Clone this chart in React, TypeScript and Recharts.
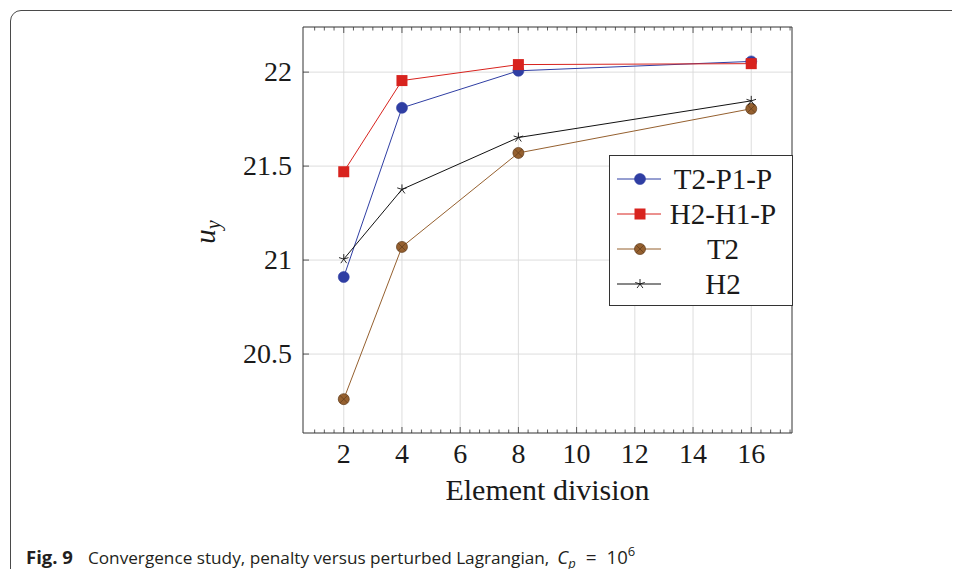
import React from 'react';
import { LineChart, Line, XAxis, YAxis, CartesianGrid } from 'recharts';

// --- Data ---
const divisions = [2, 4, 8, 16];
const t2p1p = [20.91, 21.81, 22.007, 22.057];
const h2h1p = [21.47, 21.955, 22.04, 22.045];
const t2 = [20.26, 21.07, 21.57, 21.805];
const h2 = [21.005, 21.376, 21.652, 21.847];

const xMajor = [2, 4, 6, 8, 10, 12, 14, 16];
const yMajor = [20.5, 21, 21.5, 22];
const xDomain = [0.6, 17.4];
const yDomain = [20.08, 22.24];

// 5 minor ticks between majors, also outside the first/last major
const xTicks: number[] = [];
for (let k = -3; k <= 46; k++) {
    const v = 2 + k / 3;
    if (v > xDomain[0] && v < xDomain[1]) xTicks.push(Math.round(v * 1000) / 1000);
}
const isMajorX = (v: number) => Math.abs(v - Math.round(v)) < 1e-6 && Math.round(v) % 2 === 0;

const data = divisions.map((d, i) => ({ x: d, t2p1p: t2p1p[i], h2h1p: h2h1p[i], t2: t2[i], h2: h2[i] }));

// --- Theme ---
const SERIF = '"Liberation Serif", "Times New Roman", serif';
const SANS = '"Open Sans", "Noto Sans", sans-serif';
const AXIS = '#333';
const GRID = '#d9d9d9';
const BLUE = '#2f3ea3';
const RED = '#d8231e';
const BROWN = '#95602f';
const BLACK = '#111';

// --- Markers ---
const CircleMark = ({ cx, cy }: any) => <circle cx={cx} cy={cy} r={5.5} fill={BLUE} stroke={BLUE} strokeWidth={0.6} />;
const SquareMark = ({ cx, cy }: any) => <rect x={cx - 5.5} y={cy - 5.5} width={11} height={11} fill={RED} />;
const OtimesMark = ({ cx, cy }: any) => {
    const d = 5.5 * 0.707;
    return (
        <g>
            <circle cx={cx} cy={cy} r={5.5} fill={BROWN} stroke="#5e3b1b" strokeWidth={0.7} />
            <line x1={cx - d} y1={cy - d} x2={cx + d} y2={cy + d} stroke="#5e3b1b" strokeWidth={0.7} />
            <line x1={cx - d} y1={cy + d} x2={cx + d} y2={cy - d} stroke="#5e3b1b" strokeWidth={0.7} />
        </g>
    );
};
const StarMark = ({ cx, cy }: any) => (
    <g stroke={BLACK} strokeWidth={0.9}>
        {[0, 1, 2, 3, 4].map((k) => {
            const a = (-90 + k * 72) * (Math.PI / 180);
            return <line key={k} x1={cx} y1={cy} x2={cx + 5 * Math.cos(a)} y2={cy + 5 * Math.sin(a)} />;
        })}
    </g>
);

const SERIES = [
    { key: 't2p1p', name: 'T2-P1-P', color: BLUE, Mark: CircleMark },
    { key: 'h2h1p', name: 'H2-H1-P', color: RED, Mark: SquareMark },
    { key: 't2', name: 'T2', color: BROWN, Mark: OtimesMark },
    { key: 'h2', name: 'H2', color: BLACK, Mark: StarMark },
];

// --- Ticks (pointing inwards, like pgfplots) ---
function BottomTick({ x, y, payload }: any) {
    const major = isMajorX(payload.value);
    return (
        <g>
            <line x1={x} x2={x} y1={y} y2={y - (major ? 6 : 3.5)} stroke={AXIS} strokeWidth={0.8} />
            {major && (
                <text x={x} y={y + 30} textAnchor="middle" fontFamily={SERIF} fontSize={28} fill="#1a1a1a">
                    {Math.round(payload.value)}
                </text>
            )}
        </g>
    );
}

function TopTick({ x, y, payload }: any) {
    const major = isMajorX(payload.value);
    return <line x1={x} x2={x} y1={y} y2={y + (major ? 6 : 3.5)} stroke={AXIS} strokeWidth={0.8} />;
}

function LeftTick({ x, y, payload }: any) {
    return (
        <g>
            <line x1={x} x2={x + 6} y1={y} y2={y} stroke={AXIS} strokeWidth={0.8} />
            <text x={x - 11} y={y + 9} textAnchor="end" fontFamily={SERIF} fontSize={28} fill="#1a1a1a">
                {payload.value}
            </text>
        </g>
    );
}

function RightTick({ x, y }: any) {
    return <line x1={x} x2={x - 6} y1={y} y2={y} stroke={AXIS} strokeWidth={0.8} />;
}

function YLabel({ viewBox }: any) {
    const x = viewBox.x - 28;
    const y = viewBox.y + viewBox.height / 2 + 2;
    return (
        <text x={x} y={y} transform={`rotate(-90 ${x} ${y})`} textAnchor="middle" fontFamily={SERIF} fontStyle="italic" fontSize={29} fill="#1a1a1a">
            u<tspan fontSize={20} dy={5}>y</tspan>
        </text>
    );
}

function XLabel({ viewBox }: any) {
    return (
        <text x={viewBox.x + viewBox.width / 2} y={viewBox.y + 67} textAnchor="middle" fontFamily={SERIF} fontSize={30} fill="#1a1a1a">
            Element division
        </text>
    );
}

function LegendBox() {
    return (
        <div style={{ position: 'absolute', left: 609, top: 155, width: 182, height: 149, border: `1.2px solid ${AXIS}`, background: '#fff' }}>
            {SERIES.map((s, i) => (
                <div key={s.key} style={{ position: 'absolute', left: 0, top: 8 + i * 35, height: 30, width: 182, display: 'flex', alignItems: 'center' }}>
                    <svg width={54} height={30} style={{ display: 'block' }}>
                        <line x1={7} x2={51} y1={15} y2={15} stroke={s.color} strokeWidth={1} />
                        <s.Mark cx={30} cy={15} />
                    </svg>
                    <span style={{ width: 118, textAlign: 'center', fontFamily: SERIF, fontSize: 29, lineHeight: '30px', color: '#1a1a1a' }}>{s.name}</span>
                </div>
            ))}
        </div>
    );
}

export default function App() {
    return (
        <div style={{ position: 'relative', width: 960, height: 577, margin: -8, overflow: 'hidden', background: '#fff' }}>
            <div style={{ position: 'absolute', left: 10, top: 10, width: 1100, height: 800, border: '1.6px solid #4a4a4a', borderRadius: 11 }} />
            <LineChart
                width={960}
                height={577}
                data={data}
                margin={{ top: 26, right: 167, left: 243, bottom: 84 }}
                style={{ position: 'absolute', left: 0, top: 0 }}
            >
                <CartesianGrid stroke={GRID} strokeWidth={0.9} verticalValues={xMajor} horizontalValues={yMajor} />
                <XAxis
                    dataKey="x"
                    type="number"
                    domain={xDomain}
                    ticks={xTicks}
                    interval={0}
                    height={60}
                    tickSize={0}
                    tickMargin={0}
                    tickLine={false}
                    tick={<BottomTick />}
                    axisLine={{ stroke: AXIS, strokeWidth: 1 }}
                    label={<XLabel />}
                />
                <XAxis
                    xAxisId="top"
                    orientation="top"
                    dataKey="x"
                    type="number"
                    domain={xDomain}
                    ticks={xTicks}
                    interval={0}
                    height={1}
                    tickSize={0}
                    tickMargin={0}
                    tickLine={false}
                    tick={<TopTick />}
                    axisLine={{ stroke: AXIS, strokeWidth: 1 }}
                />
                <YAxis
                    type="number"
                    domain={yDomain}
                    ticks={yMajor}
                    interval={0}
                    width={60}
                    tickSize={0}
                    tickMargin={0}
                    tickLine={false}
                    tick={<LeftTick />}
                    axisLine={{ stroke: AXIS, strokeWidth: 1 }}
                    label={<YLabel />}
                />
                <YAxis
                    yAxisId="right"
                    orientation="right"
                    type="number"
                    domain={yDomain}
                    ticks={yMajor}
                    interval={0}
                    width={1}
                    tickSize={0}
                    tickMargin={0}
                    tickLine={false}
                    tick={<RightTick />}
                    axisLine={{ stroke: AXIS, strokeWidth: 1 }}
                />
                {SERIES.map((s) => (
                    <Line
                        key={s.key}
                        type="linear"
                        dataKey={s.key}
                        name={s.name}
                        stroke={s.color}
                        strokeWidth={1}
                        isAnimationActive={false}
                        activeDot={false}
                        dot={(p: any) => <s.Mark key={`${s.key}-${p.index}`} cx={p.cx} cy={p.cy} />}
                    />
                ))}
            </LineChart>
            <LegendBox />
            <svg width={960} height={577} style={{ position: 'absolute', left: 0, top: 0, pointerEvents: 'none' }}>
                <text x={26} y={564} fontFamily={SANS} fontSize={17.2} fill="#231f20">
                    <tspan fontWeight="bold" fontSize={18.5}>Fig. 9</tspan>
                    <tspan dx={15}>Convergence study, penalty versus perturbed Lagrangian,</tspan>
                    <tspan fontStyle="italic" fontSize={18.5} dx={8}>C</tspan>
                    <tspan fontStyle="italic" fontSize={13} dy={4}>p</tspan>
                    <tspan fontSize={19} dy={-4} dx={10}>=</tspan>
                    <tspan fontSize={18.5} dx={10}>10</tspan>
                    <tspan fontSize={13} dy={-8}>6</tspan>
                </text>
            </svg>
        </div>
    );
}
